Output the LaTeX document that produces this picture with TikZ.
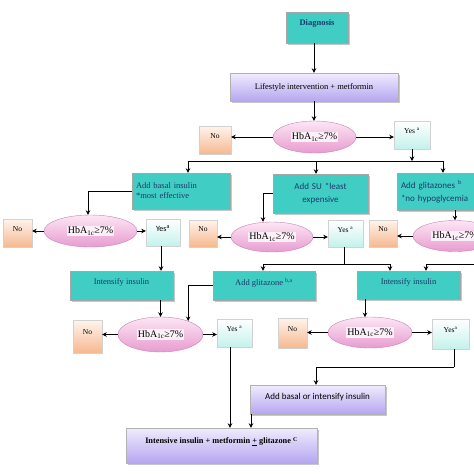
\documentclass[tikz,border=0pt]{standalone}
\usepackage{fontspec}
\setmainfont{Liberation Serif}
\newfontfamily\calib{Carlito}
\usetikzlibrary{shapes.geometric,shadows,arrows.meta,calc}
\definecolor{tealbox}{RGB}{64,206,196}
\definecolor{tealtext}{RGB}{28,58,108}
\definecolor{lavtop}{RGB}{240,236,253}
\definecolor{lavbot}{RGB}{182,166,240}
\definecolor{pinktop}{RGB}{252,230,244}
\definecolor{pinkbot}{RGB}{232,156,208}
\definecolor{pinkline}{RGB}{200,130,180}
\definecolor{yesbot}{RGB}{196,242,236}
\definecolor{notop}{RGB}{255,244,236}
\definecolor{nobot}{RGB}{246,184,144}
\definecolor{hbbg}{RGB}{252,240,248}
\newcommand{\hba}{{\setlength{\fboxsep}{1pt}\colorbox{hbbg}{HbA\textsubscript{1c}≥7\%}}}
\tikzset{
  shad/.style={drop shadow={shadow xshift=1.5pt,shadow yshift=-1.5pt,fill=gray!55,opacity=.8}},
  tealnode/.style={rectangle,draw=gray!70,fill=tealbox,shad,text=tealtext,inner sep=2pt,font=\fontsize{8.5}{10}\selectfont},
  lavnode/.style={rectangle,draw=gray!60,top color=lavtop,bottom color=lavbot,shad,inner sep=2pt},
  decis/.style={ellipse,draw=pinkline,top color=pinktop,bottom color=pinkbot,inner sep=0pt,font=\fontsize{10}{12}\selectfont},
  yesnode/.style={rectangle,draw=gray!35,top color=white,bottom color=yesbot,inner sep=1pt,text depth=8pt,font=\fontsize{7.5}{9}\selectfont},
  nonode/.style={rectangle,draw=gray!35,top color=notop,bottom color=nobot,inner sep=1pt,text depth=8pt,font=\fontsize{7.5}{9}\selectfont},
  arr/.style={draw=black,line width=0.9pt,-{Stealth[length=4.5pt,width=4.5pt]}},
  ln/.style={draw=black,line width=0.9pt}
}
\begin{document}
\begin{tikzpicture}[x=1pt,y=-1pt]
\useasboundingbox (0,0) rectangle (474,474);
\clip (0,0) rectangle (474,474);
\coordinate (x88) at (88,0);
\coordinate (x161) at (161,0);
\coordinate (x188) at (188,0);
\coordinate (x230) at (230,0);
\coordinate (x251) at (251,0);
\coordinate (x263) at (263,0);
\coordinate (x316) at (316,0);
\coordinate (x390) at (390,0);
\coordinate (x426) at (426,0);
\coordinate (x443) at (443,0);
\coordinate (x365) at (365,0);
% top
\node[tealnode,minimum width=62pt,minimum height=31pt,text depth=10pt,font=\bfseries\fontsize{8.5}{10}\selectfont] (diag) at (317,27.5) {Diagnosis};
\node[lavnode,minimum width=168pt,minimum height=28pt,font=\fontsize{8.5}{10}\selectfont] (life) at (314,87) {Lifestyle intervention + metformin};
\node[decis,minimum width=83pt,minimum height=32pt] (e1) at (314.5,137) {\hba};
\node[nonode,minimum width=32pt,minimum height=28pt] (no1) at (215,140) {No};
\node[yesnode,minimum width=36pt,minimum height=28pt] (yes1) at (412,135) {Yes \textsuperscript{a}};
\draw[arr] (diag.south -| life.north) -- (life.north);
\draw[arr] (life.south) -- (life.south |- e1.north);
\draw[arr] (e1.west) -- (e1.west -| no1.east);
\draw[arr] (e1.east) -- (e1.east -| yes1.west);
\coordinate (j1) at (316,161);
% second row
\node[tealnode,minimum width=98pt,minimum height=36pt,align=left,text width=90pt] (basal) at (181,191) {Add basal insulin\\{}*most effective};
\node[tealnode,minimum width=95pt,minimum height=39pt,align=center,text width=80pt,font=\calib\fontsize{9}{13}\selectfont] (su) at (320.5,193.5) {Add SU *least\\{}expensive};
\node[tealnode,minimum width=88pt,minimum height=37pt,align=left,text width=80pt,font=\calib\fontsize{9}{13}\selectfont] (glit) at (441,191.5) {Add glitazones \textsuperscript{b}\\{}*no hypoglycemia};
\draw[arr] (yes1.south) -- (yes1.south |- j1);
\draw[ln] (j1 -| x188) -- (j1 -| x443);
\draw[arr] (j1 -| x188) -- (basal.north -| x188);
\draw[arr] (j1) -- (su.north -| j1);
\draw[arr] (j1 -| x443) -- (glit.north -| x443);
% left branch
\node[decis,minimum width=93pt,minimum height=32pt] (e2) at (90.5,231) {\hba};
\node[nonode,minimum width=29pt,minimum height=28pt] (no2) at (17.5,233) {No};
\node[yesnode,minimum width=34pt,minimum height=27pt,font=\calib\fontsize{8}{9}\selectfont] (yes2) at (163,232.5) {Yes\textsuperscript{a}};
\draw[arr] (basal.west) -| (e2.north -| x88);
\draw[arr] (e2.west) -- (e2.west -| no2.east);
\draw[arr] (e2.east) -- (e2.east -| yes2.west);
\node[tealnode,minimum width=103pt,minimum height=29pt,text depth=7pt] (int1) at (121.5,285.5) {Intensify insulin};
\draw[arr] (yes2.south -| x161) -- (int1.north -| x161);
% middle branch
\node[decis,minimum width=82pt,minimum height=30pt] (e3) at (272,237) {\hba};
\node[nonode,minimum width=28pt,minimum height=27pt] (no3) at (203,233.5) {No};
\node[yesnode,minimum width=35pt,minimum height=27pt] (yes3) at (345.5,233.5) {Yes \textsuperscript{a}};
\draw[arr] (su.west) -| (e3.north -| x263);
\draw[arr] (e3.west) -- (e3.west -| no3.east);
\draw[arr] (e3.east) -- (e3.east -| yes3.west);
\coordinate (j2) at (344,264);
\node[tealnode,minimum width=102pt,minimum height=29pt,text depth=7pt] (glz) at (264,285.5) {Add glitazone \textsuperscript{b,a}};
\node[tealnode,minimum width=103pt,minimum height=28pt,text depth=7pt] (int2) at (408.5,285) {Intensify insulin};
\draw[ln] (yes3.south -| j2) -- (j2);
\draw[ln] (j2 -| x263) -- (j2 -| x390);
\draw[arr] (j2 -| x263) -- (glz.north -| x263);
\draw[arr] (j2 -| x390) -- (int2.north -| x390);
% right branch
\node[decis,minimum width=84pt,minimum height=31pt] (e4) at (455,236) {\hba};
\node[nonode,minimum width=28pt,minimum height=27pt] (no4) at (383,233.5) {No};
\draw[arr] (glit.south -| e4.north) -- (e4.north);
\draw[arr] (e4.west) -- (e4.west -| no4.east);
\coordinate (r1) at (480,264);
\draw[arr] (r1) -| (int2.north -| x426);
% third row left
\node[decis,minimum width=85pt,minimum height=35pt] (e5) at (160.5,334.5) {\hba};
\node[nonode,minimum width=29pt,minimum height=33pt] (no5) at (87.5,336.5) {No};
\node[yesnode,minimum width=35pt,minimum height=28pt] (yes5) at (234.5,333) {Yes \textsuperscript{a}};
\draw[arr] (int1.south -| e5.north) -- (e5.north);
\draw[arr] (glz.west) -| (e5.26);
\draw[arr] (e5.west) -- (e5.west -| no5.east);
\draw[arr] (e5.east) -- (e5.east -| yes5.west);
% third row right
\node[decis,minimum width=84pt,minimum height=31pt] (e6) at (370,332.5) {\hba};
\node[nonode,minimum width=29pt,minimum height=30pt] (no6) at (292.5,333) {No};
\node[yesnode,minimum width=37pt,minimum height=30pt] (yes6) at (450.5,334) {Yes\textsuperscript{a}};
\draw[arr] (int2.south -| x365) -- ([xshift=-5pt,yshift=-0.4pt]e6.north);
\draw[arr] (e6.west) -- (e6.west -| no6.east);
\draw[arr] (e6.east) -- (e6.east -| yes6.west);
% bottom
\node[lavnode,minimum width=135pt,minimum height=29pt,text depth=7pt,font=\calib\fontsize{9}{11}\selectfont] (abi) at (317.5,399.5) {Add basal or intensify insulin};
\node[lavnode,minimum width=191pt,minimum height=35pt,text depth=10pt,font=\bfseries\fontsize{8.3}{10}\selectfont] (fin) at (221.5,445.5) {Intensive insulin + metformin \underline{+} glitazone \textsuperscript{C}};
\coordinate (j3) at (454,367);
\draw[ln] (yes6.south -| j3) -- (j3);
\draw[arr] (j3) -| (abi.north -| x316);
\draw[arr] (yes5.south -| x230) -- (fin.north -| x230);
\draw[arr] (abi.south -| x251) -- (fin.north -| x251);
\end{tikzpicture}
\end{document}
